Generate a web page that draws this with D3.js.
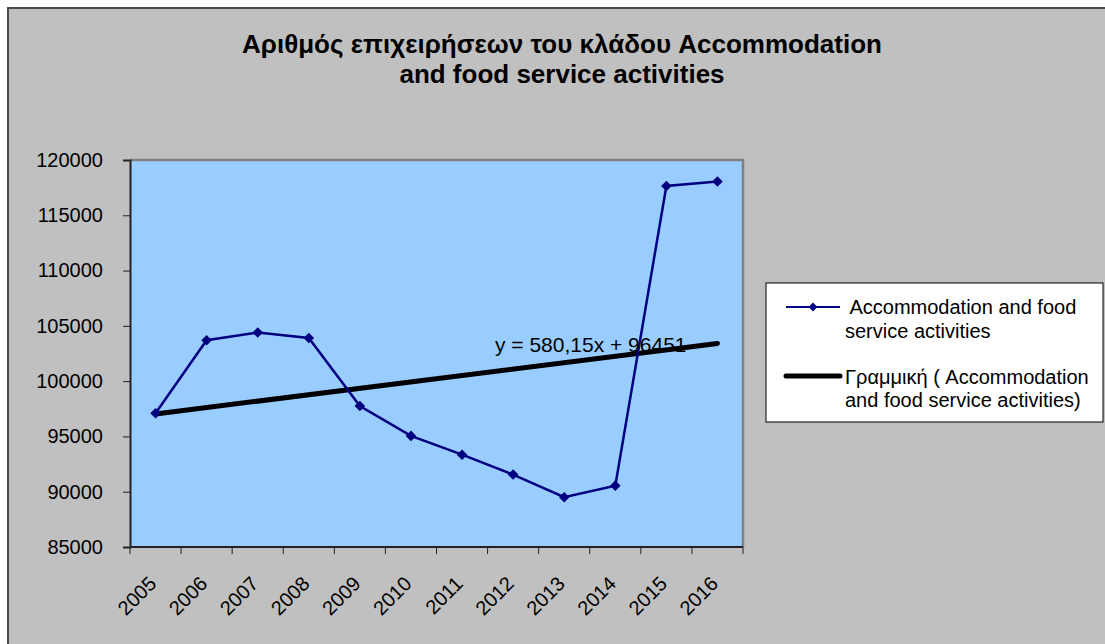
<!DOCTYPE html>
<html>
<head>
<meta charset="utf-8">
<script src="https://cdn.jsdelivr.net/npm/d3@7"></script>
<style>
  body { margin: 0; background: #ffffff; }
  svg text { font-family: "Liberation Sans", Arial, sans-serif; fill: #000; }
</style>
</head>
<body>
<div class="Chart"></div>
<script>
// data
var years = ["2005","2006","2007","2008","2009","2010","2011","2012","2013","2014","2015","2016"];
var firms = [97100, 103700, 104400, 103900, 97750, 95050, 93350, 91550, 89500, 90550, 117650, 118050];
var yTicks = [85000, 90000, 95000, 100000, 105000, 110000, 115000, 120000];
var trendSlope = 580.15,
    trendIntercept = 96451;
var titleLines = ["Αριθμός επιχειρήσεων του κλάδου Accommodation", "and food service activities"];
var legendSeries = [" Accommodation and food", "service activities"];
var legendTrend = ["Γραμμική ( Accommodation", "and food service activities)"];
var equation = "y = 580,15x + 96451";

var width = 1105,
    height = 644;

var plot = { left: 130, top: 160, right: 743, bottom: 547 };

var svg = d3.select(".Chart").append("svg")
    .attr("width", width)
    .attr("height", height);

// chart area
svg.append("rect")
    .attr("x", 8)
    .attr("y", 8)
    .attr("width", 1110)
    .attr("height", 660)
    .attr("fill", "#c0c0c0")
    .attr("stroke", "#4a4a4a")
    .attr("stroke-width", 2);

// title
svg.append("text")
    .attr("text-anchor", "middle")
    .style("font-size", "26px")
    .style("font-weight", "bold")
    .selectAll("tspan")
    .data(titleLines)
    .enter().append("tspan")
    .attr("x", 562)
    .attr("y", function(d, i) { return 53 + i * 30; })
    .text(function(d) { return d; });

var x = d3.scaleBand()
    .domain(years)
    .range([plot.left, plot.right]);

var y = d3.scaleLinear()
    .domain([85000, 120000])
    .range([plot.bottom, plot.top]);

// plot area
svg.append("rect")
    .attr("x", plot.left)
    .attr("y", plot.top)
    .attr("width", plot.right - plot.left)
    .attr("height", plot.bottom - plot.top)
    .attr("fill", "#99ccff");

svg.append("path")
    .attr("d", "M" + plot.left + "," + plot.top + "H" + plot.right + "V" + plot.bottom)
    .attr("fill", "none")
    .attr("stroke", "#808080")
    .attr("stroke-width", 2.5);

// y axis
var yAxis = svg.append("g")
    .attr("transform", "translate(" + plot.left + ",0)")
    .call(d3.axisLeft(y).tickValues(yTicks).tickSize(7).tickPadding(20).tickFormat(d3.format("d")));
yAxis.select(".domain").attr("stroke", "#222").attr("stroke-width", 2);
yAxis.selectAll(".tick line").attr("stroke", "#222");
yAxis.selectAll("text").style("font-size", "20px").attr("font-family", null);

// x axis, ticks at category boundaries
svg.append("line")
    .attr("x1", plot.left).attr("x2", plot.right)
    .attr("y1", plot.bottom).attr("y2", plot.bottom)
    .attr("stroke", "#222").attr("stroke-width", 2);

svg.selectAll(".xtick")
    .data(years.concat(["end"]))
    .enter().append("line")
    .attr("class", "xtick")
    .attr("x1", function(d) { return d === "end" ? plot.right : x(d); })
    .attr("x2", function(d) { return d === "end" ? plot.right : x(d); })
    .attr("y1", plot.bottom)
    .attr("y2", plot.bottom + 7)
    .attr("stroke", "#222");

svg.selectAll(".xlabel")
    .data(years)
    .enter().append("text")
    .attr("class", "xlabel")
    .attr("text-anchor", "end")
    .style("font-size", "20px")
    .attr("transform", function(d) {
        return "translate(" + (x(d) + x.bandwidth() / 2 + 2) + "," + (plot.bottom + 38) + ") rotate(-45)";
    })
    .text(function(d) { return d; });

// trendline
var n = years.length;
var trend = [1, n].map(function(k) { return { year: years[k - 1], v: trendIntercept + trendSlope * k }; });

var cx = function(d) { return x(d) + x.bandwidth() / 2; };

svg.append("line")
    .attr("x1", cx(trend[0].year)).attr("y1", y(trend[0].v))
    .attr("x2", cx(trend[1].year)).attr("y2", y(trend[1].v))
    .attr("stroke", "#000")
    .attr("stroke-width", 5)
    .attr("stroke-linecap", "round");

// series line
var line = d3.line()
    .x(function(d, i) { return cx(years[i]); })
    .y(function(d) { return y(d); });

svg.append("path")
    .datum(firms)
    .attr("d", line)
    .attr("fill", "none")
    .attr("stroke", "#000080")
    .attr("stroke-width", 2.5);

var diamond = d3.symbol().type(d3.symbolSquare).size(56);

svg.selectAll(".marker")
    .data(firms)
    .enter().append("path")
    .attr("class", "marker")
    .attr("d", diamond)
    .attr("transform", function(d, i) { return "translate(" + cx(years[i]) + "," + y(d) + ") rotate(45)"; })
    .attr("fill", "#000080");

svg.append("text")
    .attr("x", 495)
    .attr("y", 352)
    .style("font-size", "21px")
    .text(equation);

// legend
var legend = svg.append("g");

legend.append("rect")
    .attr("x", 766)
    .attr("y", 283)
    .attr("width", 337)
    .attr("height", 139)
    .attr("fill", "#fff")
    .attr("stroke", "#000");

legend.append("line")
    .attr("x1", 786).attr("x2", 840)
    .attr("y1", 307).attr("y2", 307)
    .attr("stroke", "#000080")
    .attr("stroke-width", 2);

legend.append("path")
    .attr("d", d3.symbol().type(d3.symbolSquare).size(40))
    .attr("transform", "translate(813,307) rotate(45)")
    .attr("fill", "#000080");

legend.append("text")
    .style("font-size", "20px")
    .style("white-space", "pre")
    .selectAll("tspan")
    .data(legendSeries)
    .enter().append("tspan")
    .attr("x", 845)
    .attr("y", function(d, i) { return 314 + i * 24; })
    .text(function(d) { return d; });

legend.append("line")
    .attr("x1", 786).attr("x2", 840)
    .attr("y1", 376).attr("y2", 376)
    .attr("stroke", "#000")
    .attr("stroke-width", 5)
    .attr("stroke-linecap", "round");

legend.append("text")
    .style("font-size", "20px")
    .selectAll("tspan")
    .data(legendTrend)
    .enter().append("tspan")
    .attr("x", 845)
    .attr("y", function(d, i) { return 384 + i * 23; })
    .text(function(d) { return d; });
</script>
</body>
</html>
